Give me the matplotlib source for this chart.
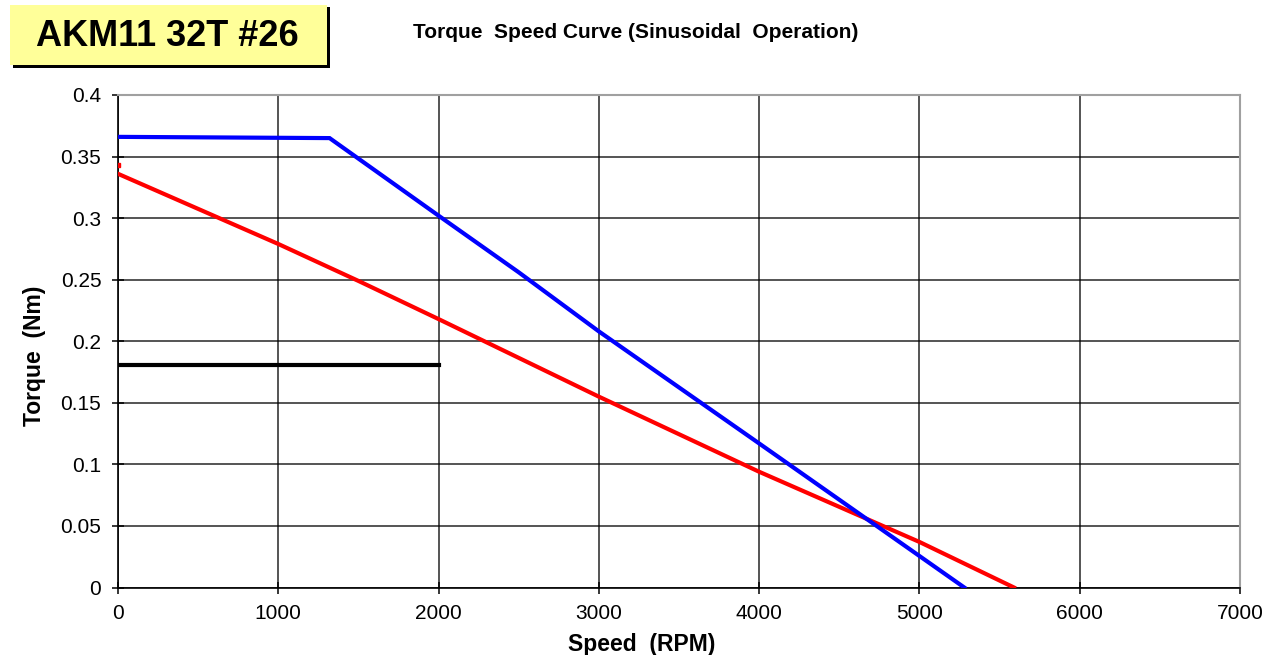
import matplotlib.pyplot as plt
from matplotlib.patches import Rectangle

plt.rcParams['font.family'] = ['Liberation Sans', 'DejaVu Sans']

# torque speed data
blue_speed = [0, 1320, 2000, 2500, 3000, 4000, 5280]
blue_torque = [0.366, 0.365, 0.302, 0.256, 0.208, 0.117, 0.0]

red_speed = [0, 1000, 1500, 2000, 3000, 4000, 5000, 5590]
red_torque = [0.336, 0.279, 0.249, 0.218, 0.155, 0.094, 0.037, 0.0]

red_dot_speed = [0]
red_dot_torque = [0.343]

cont_speed = [0, 2000]
cont_torque = [0.181, 0.181]

x_ticks = [0, 1000, 2000, 3000, 4000, 5000, 6000, 7000]
y_ticks = [0, 0.05, 0.1, 0.15, 0.2, 0.25, 0.3, 0.35, 0.4]
y_labels = ['0', '0.05', '0.1', '0.15', '0.2', '0.25', '0.3', '0.35', '0.4']

W, H = 1277, 655
fig = plt.figure(figsize=(W / 100, H / 100), dpi=100)
ax = fig.add_axes([118 / W, 1 - 587.5 / H, (1240 - 118) / W, (587.5 - 95) / H])

ax.plot(blue_speed, blue_torque, color='#0000ff', lw=3, solid_joinstyle='miter', zorder=4)
ax.plot(red_speed, red_torque, color='#ff0000', lw=3, zorder=3)
ax.plot(red_dot_speed, red_dot_torque, 's', color='#ff0000', ms=2.5, zorder=3)
ax.plot(cont_speed, cont_torque, color='black', lw=3, zorder=3)

ax.set_xlim(0, 7000)
ax.set_ylim(0, 0.4)
ax.set_xticks(x_ticks)
ax.set_yticks(y_ticks)
ax.set_yticklabels(y_labels)
ax.grid(True, color='black', lw=1.1, alpha=0.85)
ax.set_axisbelow(True)
ax.tick_params(direction='inout', length=8, width=1.1, labelsize=15, pad=8)

ax.spines['left'].set_linewidth(1.2)
ax.spines['bottom'].set_linewidth(1.2)
for s in ['top', 'right']:
    ax.spines[s].set_color('#a0a0a0')
    ax.spines[s].set_linewidth(1.5)

ax.set_xlabel('Speed  (RPM)', fontsize=16.5, fontweight='bold')
ax.xaxis.set_label_coords(0.467, -0.093)
ax.set_ylabel('Torque  (Nm)', fontsize=16.5, fontweight='bold')
ax.yaxis.set_label_coords(-0.064, 0.47)

# yellow title box with a dark shadow on the right and bottom
fig.patches.append(Rectangle((13 / W, 1 - 68 / H), 317 / W, 61 / H,
                             transform=fig.transFigure, facecolor='black', zorder=1))
fig.patches.append(Rectangle((10 / W, 1 - 65 / H), 317 / W, 60 / H,
                             transform=fig.transFigure, facecolor='#ffff99', zorder=2))
fig.text(167 / W, 1 - 36 / H, 'AKM11 32T #26', fontsize=26, fontweight='bold',
         ha='center', va='center', zorder=3)

fig.text(636 / W, 1 - 32 / H, 'Torque  Speed Curve (Sinusoidal  Operation)',
         fontsize=15, fontweight='bold', ha='center', va='center')

fig.savefig('out.png', dpi=100)
